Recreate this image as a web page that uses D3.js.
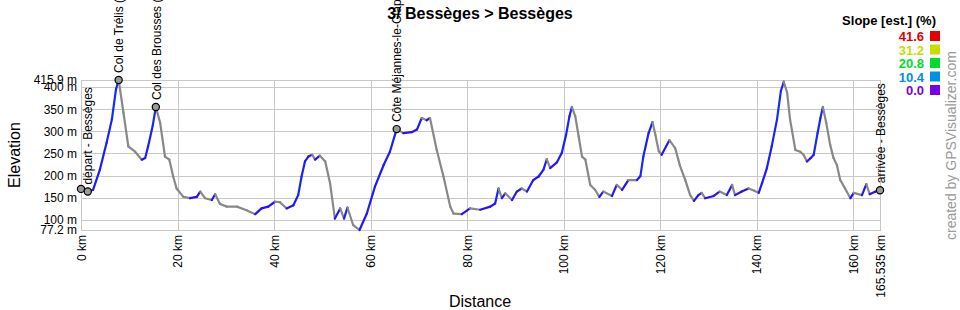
<!DOCTYPE html>
<html>
<head>
<meta charset="utf-8">
<script src="https://cdn.jsdelivr.net/npm/d3@7"></script>
<style>
  body { margin: 0; background: #fff; }
  svg { display: block; font-family: Arial, "Liberation Sans", sans-serif; }
</style>
</head>
<body>
<svg width="960" height="310"></svg>
<script>
// Track profile: distance (km) and elevation (m)
const distKm = [1.3,2.5,3.9,5.3,6.4,7.25,7.8,8.8,9.8,11.2,12.6,13.3,13.9,14.9,15.5,16.4,17.4,18.3,19.1,19.8,
  21.2,22.6,24.0,24.7,25.7,27.1,27.8,28.8,30.2,32.3,34.3,36.1,37.4,38.8,40.2,41.2,42.6,44.0,45.0,45.7,
  46.4,47.1,47.9,48.5,49.5,50.6,51.6,52.6,53.7,54.5,55.2,56.4,57.7,59.2,60.9,62.7,64.0,65.4,66.8,68.5,
  69.6,70.6,71.6,72.3,73.7,75.1,76.5,77.2,78.9,80.6,82.7,84.8,85.8,86.5,87.2,87.9,89.3,90.3,91.3,92.4,
  93.7,94.8,95.8,96.5,97.2,98.6,99.6,100.5,101.2,101.7,102.4,103.1,103.8,104.5,105.5,106.5,107.4,108.2,110.0,111.0,
  112.1,113.4,115.2,115.9,116.5,117.6,118.4,119.0,119.7,120.3,121.9,123.1,124.1,125.2,126.2,127.0,127.9,128.6,129.3,131.1,
  132.3,133.8,134.9,135.5,136.9,138.3,139.5,140.4,141.1,142.1,143.1,144.2,145.0,145.6,146.3,146.9,148.0,149.0,149.7,150.4,
  151.2,151.8,152.6,153.2,153.7,154.4,155.2,155.9,156.6,157.3,158.3,159.4,160.1,161.8,162.7,163.4,164.6,165.535];
const elevM = [163,168,213,274,327,395,415.9,342,266,254,236,240,266,315,355,319,243,236,198,171,
  152,149,152,164,149,145,158,136,130,130,122,113,126,130,141,140,126,133,156,198,
  232,243,247,236,245,232,183,103,126,103,128,88,77.2,114,175,224,254,305,296,298,
  304,330,325,330,258,198,130,114,113,126,123,130,137,171,149,160,145,164,171,164,
  190,198,213,237,217,230,251,292,334,355,334,289,243,236,179,168,152,164,154,179,
  168,190,190,199,243,296,321,292,255,247,280,262,222,190,156,143,156,161,149,154,
  164,156,179,156,164,171,166,161,183,217,266,327,391,412,387,327,258,254,247,232,
  240,247,296,330,355,319,270,240,224,190,171,149,161,156,181,158,164,167];

// Waypoints
const wpName = ["", "départ - Bessèges", "Col de Trélis (", "Col des Brousses (", "Côte Méjannes-le-Clap", "arrivée - Bessèges"];
const wpKm = [0, 1.4, 7.8, 15.5, 65.4, 165.535];
const wpElev = [170, 164, 415.9, 355, 305, 167];

// Axis ticks
const yTicks = [77.2, 100, 150, 200, 250, 300, 350, 400, 415.9];
const yGrid = [100, 150, 200, 250, 300, 350, 400];
const xTicks = [0, 20, 40, 60, 80, 100, 120, 140, 160, 165.535];
const xGrid = [20, 40, 60, 80, 100, 120, 140, 160];

// Slope legend
const slopeVals = [41.6, 31.2, 20.8, 10.4, 0.0];
const slopeColors = ["#e60000", "#c8dc00", "#00dc2a", "#0090e6", "#7800e6"];

const svg = d3.select("svg");
const x = d3.scaleLinear().domain([0, 165.535]).range([81, 880]);
const y = d3.scaleLinear().domain([77.2, 415.9]).range([230, 80]);
const slopeColor = d3.scaleLinear()
  .domain(slopeVals.slice().reverse())
  .range(slopeColors.slice().reverse())
  .clamp(true);

// grid
svg.append("g").selectAll("line").data(yGrid).join("line")
  .attr("x1", 81).attr("x2", 880)
  .attr("y1", d => Math.round(y(d)) + 0.5).attr("y2", d => Math.round(y(d)) + 0.5)
  .attr("stroke", "#c8c8c8");
svg.append("g").selectAll("line").data(xGrid).join("line")
  .attr("y1", 80).attr("y2", 230)
  .attr("x1", d => Math.round(x(d)) + 0.5).attr("x2", d => Math.round(x(d)) + 0.5)
  .attr("stroke", "#c8c8c8");
svg.append("rect")
  .attr("x", 81.5).attr("y", 80.5).attr("width", 799).attr("height", 150)
  .attr("fill", "none").attr("stroke", "#c8c8c8");

// y axis labels
const yAxis = svg.append("g").attr("transform", "translate(81,0)")
  .call(d3.axisLeft(y).tickValues(yTicks).tickSize(0).tickPadding(4)
    .tickFormat(d => d + " m"));
yAxis.select(".domain").remove();
yAxis.selectAll("text").attr("font-size", 12).attr("fill", "#000")
  .attr("font-family", "Arial, 'Liberation Sans', sans-serif");

// x axis labels
const xAxis = svg.append("g").attr("transform", "translate(0,230)")
  .call(d3.axisBottom(x).tickValues(xTicks).tickSize(0).tickFormat(d => d + " km"));
xAxis.select(".domain").remove();
xAxis.selectAll("text")
  .attr("font-size", 12).attr("fill", "#000")
  .attr("font-family", "Arial, 'Liberation Sans', sans-serif")
  .attr("text-anchor", "end")
  .attr("transform", "rotate(-90)")
  .attr("x", -5).attr("y", 0).attr("dy", "0.35em");

// profile line, one segment per pair, coloured by slope (downhill = grey)
const segs = d3.range(distKm.length - 1).map(i => {
  const dz = elevM[i + 1] - elevM[i];
  const dd = (distKm[i + 1] - distKm[i]) * 1000;
  return { i, slope: dz / dd * 100 };
});
svg.append("g").selectAll("line").data(segs).join("line")
  .attr("x1", d => x(distKm[d.i])).attr("y1", d => y(elevM[d.i]))
  .attr("x2", d => x(distKm[d.i + 1])).attr("y2", d => y(elevM[d.i + 1]))
  .attr("stroke", d => d.slope <= 0 ? "#888888" : d3.interpolateRgb("#0a14ff", slopeColor(d.slope))(0.3))
  .attr("stroke-width", 2.2)
  .attr("stroke-linecap", "round");

// waypoints
const wps = d3.range(wpKm.length);
svg.append("g").selectAll("circle").data(wps).join("circle")
  .attr("cx", i => x(wpKm[i])).attr("cy", i => y(wpElev[i]))
  .attr("r", 3.6)
  .attr("fill", "#9a9a9a").attr("stroke", "#000").attr("stroke-width", 1.2);
svg.append("g").selectAll("text").data(wps.filter(i => wpName[i])).join("text")
  .attr("transform", i => `translate(${x(wpKm[i]) + 0.5},${y(wpElev[i]) - 7}) rotate(-90)`)
  .attr("dy", "0.35em")
  .attr("font-size", 12)
  .text(i => wpName[i]);

// title
svg.append("text")
  .attr("x", 480).attr("y", 19)
  .attr("text-anchor", "middle")
  .attr("font-size", 16).attr("font-weight", "bold")
  .text("3/ Bessèges > Bessèges");

// axis titles
svg.append("text")
  .attr("transform", "translate(20,155) rotate(-90)")
  .attr("text-anchor", "middle")
  .attr("font-size", 16)
  .text("Elevation");
svg.append("text")
  .attr("x", 480).attr("y", 307)
  .attr("text-anchor", "middle")
  .attr("font-size", 16)
  .text("Distance");

// slope legend
svg.append("text")
  .attr("x", 936).attr("y", 25)
  .attr("text-anchor", "end")
  .attr("font-size", 13).attr("font-weight", "bold")
  .text("Slope [est.] (%)");
const leg = svg.append("g").selectAll("g").data(slopeVals).join("g")
  .attr("transform", (d, i) => `translate(0,${41 + i * 13.5})`);
leg.append("text")
  .attr("x", 924).attr("y", 0)
  .attr("text-anchor", "end")
  .attr("font-size", 13).attr("font-weight", "bold")
  .attr("fill", (d, i) => slopeColors[i])
  .text(d => d.toFixed(1));
leg.append("rect")
  .attr("x", 930).attr("y", -10).attr("width", 10).attr("height", 10)
  .attr("fill", (d, i) => slopeColors[i]);

// credit
svg.append("text")
  .attr("transform", "translate(956,240) rotate(-90)")
  .attr("font-size", 14)
  .attr("fill", "#999")
  .text("created by GPSVisualizer.com");
</script>
</body>
</html>
